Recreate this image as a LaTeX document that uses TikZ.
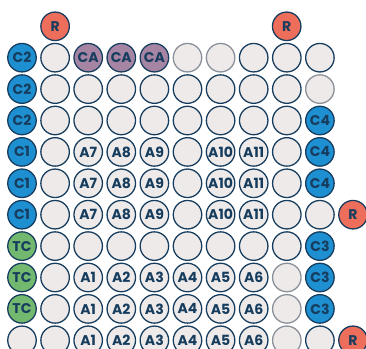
\documentclass[tikz,border=0pt]{standalone}
\usepackage{fontspec}
\setmainfont{Poppins}
\definecolor{navy}{HTML}{173D5E}
\definecolor{wellfill}{HTML}{EEEAE9}
\definecolor{rimgray}{HTML}{8A9099}
\definecolor{refred}{HTML}{EE6E5C}
\definecolor{ctrlblue}{HTML}{1E8FD1}
\definecolor{cpdpurple}{HTML}{A585A3}
\definecolor{toxgreen}{HTML}{73B86F}

\begin{document}
\begin{tikzpicture}[x=0.03cm, y=-0.03cm,
    every node/.style={circle, draw=navy, line width=1.1pt, minimum size=0.855cm, inner sep=0pt, text=navy, font=\bfseries\fontsize{12}{12}\selectfont},
    well/.style={fill=wellfill},
    wellg/.style={fill=wellfill, draw=rimgray},
    ctrl/.style={fill=ctrlblue},
    cpd/.style={fill=cpdpurple},
    tox/.style={fill=toxgreen},
    refw/.style={fill=refred}]
  \useasboundingbox (0,0) rectangle (366,349);
  % plate rows, left to right
  \foreach \lst [count=\r] in {
      {ctrl/C2,well/{},cpd/CA,cpd/CA,cpd/CA,wellg/{},wellg/{},well/{},well/{},well/{}},
      {ctrl/C2,well/{},well/{},well/{},well/{},well/{},well/{},well/{},well/{},wellg/{}},
      {ctrl/C2,well/{},well/{},well/{},well/{},well/{},well/{},well/{},well/{},ctrl/C4},
      {ctrl/C1,well/{},well/A7,well/A8,well/A9,well/{},well/A10,well/A11,well/{},ctrl/C4},
      {ctrl/C1,well/{},well/A7,well/A8,well/A9,well/{},well/A10,well/A11,well/{},ctrl/C4},
      {ctrl/C1,well/{},well/A7,well/A8,well/A9,well/{},well/A10,well/A11,well/{},well/{}},
      {tox/TC,well/{},well/{},well/{},well/{},well/{},well/{},well/{},well/{},ctrl/C3},
      {tox/TC,well/{},well/A1,well/A2,well/A3,well/A4,well/A5,well/A6,wellg/{},ctrl/C3},
      {tox/TC,well/{},well/A1,well/A2,well/A3,well/A4,well/A5,well/A6,wellg/{},ctrl/C3},
      {well/{},well/{},well/A1,well/A2,well/A3,well/A4,well/A5,well/A6,wellg/{},well/{}}} {
    \foreach \st/\lb [count=\c] in \lst {
      \node[\st] (w\r-\c) at ({22+(\c-1)*33.1},{26.3+\r*31.4}) {\lb};
    }
  }
  % reference wells outside the plate
  \node[refw] (r0-2) at (55.1,26.3) {R};
  \node[refw] (r0-9) at (286.7,26.3) {R};
  \node[refw] (r6-11) at (353,214.7) {R};
  \node[refw] (r10-11) at (353,340.3) {R};
\end{tikzpicture}
\end{document}
